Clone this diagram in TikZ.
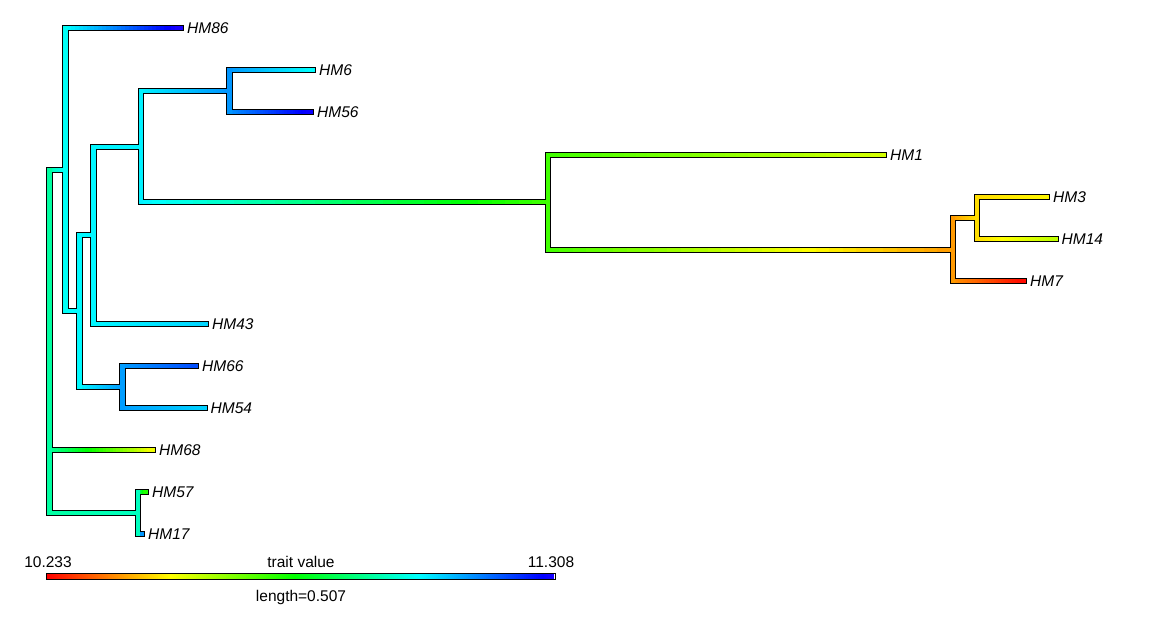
\documentclass[tikz,border=0pt]{standalone}
\usepackage{fontspec}
\setmainfont{Liberation Sans}
\usetikzlibrary{calc}

\newcommand{\nseg}{30}
% horizontal branch: hue goes from parent value to child value
\newcommand{\branch}[4]{%
  \foreach \k in {1,...,\nseg}{%
    \pgfmathsetmacro{\hh}{#3+(#4-#3)*(\k-0.5)/\nseg}%
    \definecolor{segcol}{Hsb}{\hh,1,1}%
    \draw[inner,segcol] ($(#1|-#2)!{(\k-1)/\nseg}!(#2)$) -- ($(#1|-#2)!{\k/\nseg}!(#2)$);
  }}
% vertical bar of an internal node, in the node's colour
\newcommand{\joint}[4]{%
  \definecolor{segcol}{Hsb}{#4,1,1}%
  \draw[inner,segcol] (#1|-#2) -- (#1|-#3);}

\begin{document}
\begin{tikzpicture}[x=1pt,y=-1pt,
  outer/.style={black,line width=6.8pt,line cap=rect},
  inner/.style={line width=4.2pt,line cap=rect},
  tiplbl/.style={font=\fontsize{15.5}{18}\selectfont\itshape,anchor=base west,inner sep=0pt,xshift=6pt,yshift=-5.5pt},
  lgd/.style={font=\fontsize{15.5}{18}\selectfont,anchor=base,inner sep=0pt}]
  \useasboundingbox (0,0) rectangle (1167,625);

  % tips
  \coordinate (HM86) at (181,28);
  \coordinate (HM6)  at (313,70);
  \coordinate (HM56) at (311,112);
  \coordinate (HM1)  at (884,155);
  \coordinate (HM3)  at (1047,197);
  \coordinate (HM14) at (1055.5,239);
  \coordinate (HM7)  at (1024,281);
  \coordinate (HM43) at (206,324);
  \coordinate (HM66) at (196,366);
  \coordinate (HM54) at (204.5,408);
  \coordinate (HM68) at (153,450);
  \coordinate (HM57) at (146,492);
  \coordinate (HM17) at (142,534);

  % internal nodes
  \coordinate (n975) at (977,218);
  \coordinate (n950) at (953,250);
  \coordinate (n547) at (548,202);
  \coordinate (n229) at (229.5,91);
  \coordinate (n140) at (141,147);
  \coordinate (n93)  at (93.5,235);
  \coordinate (n122) at (122.5,387);
  \coordinate (n80)  at (79.5,311);
  \coordinate (A)    at (65.5,170);
  \coordinate (nB)   at (138,513);
  \coordinate (R)    at (49.5,341);

  % black outline
  \foreach \p/\c in {R/A,R/HM68,R/nB,A/HM86,A/n80,n80/n93,n80/n122,n93/n140,
      n93/HM43,n140/n229,n140/n547,n229/HM6,n229/HM56,n547/HM1,n547/n950,
      n950/n975,n950/HM7,n975/HM3,n975/HM14,n122/HM66,n122/HM54,nB/HM57,nB/HM17}
    \draw[outer] (\p|-\c) -- (\c);
  \foreach \n/\a/\b in {R/A/nB,A/HM86/n80,n80/n93/n122,n93/n140/HM43,
      n140/n229/n547,n229/HM6/HM56,n547/HM1/n950,n950/n975/HM7,
      n975/HM3/HM14,n122/HM66/HM54,nB/HM57/HM17}
    \draw[outer] (\n|-\a) -- (\n|-\b);

  % coloured branches
  \foreach \p/\c/\hp/\hc in {R/A/158/178,R/HM68/158/62,R/nB/158/165,
      A/HM86/178/247,A/n80/178/181,n80/n93/181/182,n80/n122/181/203,
      n93/n140/182/183,n93/HM43/182/190,n140/n229/183/205,n140/n547/183/105,
      n229/HM6/205/180,n229/HM56/205/243,n547/HM1/105/70,n547/n950/105/36,
      n950/n975/36/52,n950/HM7/36/2,n975/HM3/52/58,n975/HM14/52/75,
      n122/HM66/203/222,n122/HM54/203/191,nB/HM57/165/112,nB/HM17/165/205}
    \branch{\p}{\c}{\hp}{\hc};
  \foreach \n/\a/\b/\h in {R/A/nB/158,A/HM86/n80/178,n80/n93/n122/181,
      n93/n140/HM43/182,n140/n229/n547/183,n229/HM6/HM56/205,
      n547/HM1/n950/105,n950/n975/HM7/36,n975/HM3/HM14/52,
      n122/HM66/HM54/203,nB/HM57/HM17/165}
    \joint{\n}{\a}{\b}{\h};

  % tip labels
  \foreach \t in {86,6,56,1,3,14,7,43,66,54,68,57,17}
    \node[tiplbl] (lab\t) at (HM\t) {HM\t};

  % colour bar
  \coordinate (barL) at (46,573);
  \coordinate (barR) at (555,579);
  \foreach \k in {0,...,253}{%
    \pgfmathsetmacro{\hh}{0.9684*\k}%
    \definecolor{barcol}{Hsb}{\hh,1,1}%
    \fill[barcol] ({46+2*\k},573) rectangle ({48.3+2*\k},579);
  }
  \draw[line width=0.8pt] (barL) rectangle (barR);
  \node[lgd] (barmin) at (48,567) {10.233};
  \node[lgd] (barmax) at (551,567) {11.308};
  \node[lgd] (bartitle) at (301,567) {trait value};
  \node[lgd] (barlen) at (301,601) {length=0.507};
\end{tikzpicture}
\end{document}
